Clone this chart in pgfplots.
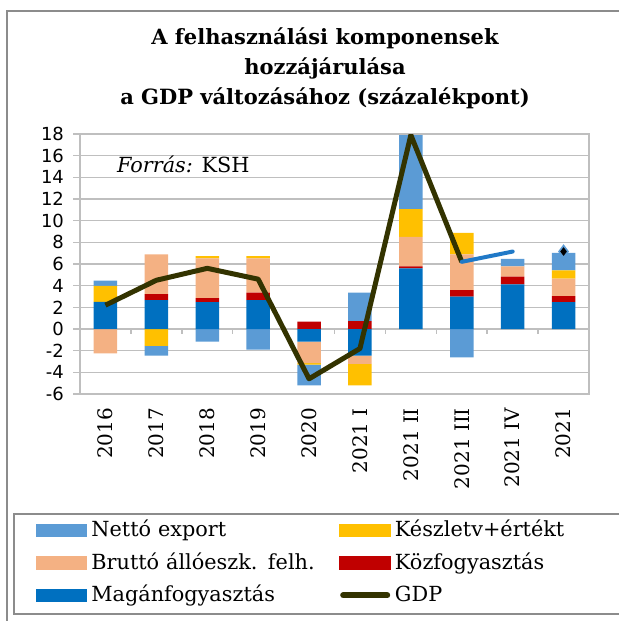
\documentclass[border=0pt]{standalone}
\usepackage{fontspec}
\setmainfont{DejaVu Serif}
\newfontfamily\sansf{DejaVu Sans}
\usepackage{pgfplots}
\usepackage{pgfplotstable}
\pgfplotsset{compat=1.18}
\definecolor{cnet}{HTML}{5B9BD5}
\definecolor{ckes}{HTML}{FFC000}
\definecolor{cbru}{HTML}{F4B183}
\definecolor{ckoz}{HTML}{C00000}
\definecolor{cmag}{HTML}{0070C0}
\definecolor{cgdp}{HTML}{333300}
\definecolor{cfc}{HTML}{2079C7}
\definecolor{cgrid}{HTML}{BFBFBF}
\definecolor{cframe}{HTML}{8C8C8C}

% contributions (percentage points); negatives stack separately below zero
\pgfplotstableread{
x mag koz bru kes net
0 2.50 0.00 -2.26 1.47 0.50
1 2.66 0.55 3.67 -1.56 -0.89
2 2.48 0.37 3.67 0.21 -1.16
3 2.66 0.70 3.15 0.21 -1.90
4 -1.16 0.67 -2.00 -0.12 -1.93
5 -2.45 0.73 -0.76 -2.00 2.63
6 5.60 0.18 2.72 2.57 6.82
7 3.00 0.58 3.30 2.00 -2.63
8 4.13 0.70 0.95 0.00 0.70
9 2.48 0.55 1.62 0.76 1.62
}\bars

\pgfplotstableread{
x gdp
0 2.2
1 4.5
2 5.6
3 4.6
4 -4.6
5 -1.8
6 17.9
7 6.2
}\gdp

\pgfplotstableread{
x fc
7 6.2
8 7.15
}\fc

\pgfplotstableread{
x y
9 7.15
}\ann

\pgfplotsset{
  common/.style={
    at={(40pt,-197pt)}, anchor=south west,
    scale only axis, width=254.5pt, height=130pt,
    xmin=-0.5, xmax=9.5, ymin=-6, ymax=18,
  }
}

\begin{document}
\begin{tikzpicture}
\useasboundingbox (0,0) rectangle (309.5pt,-310.5pt);
\draw[cframe, line width=1pt] (3.5pt,-312pt) -- (3.5pt,-5.5pt) -- (311pt,-5.5pt);
\node[font=\bfseries\fontsize{10.5}{15}\selectfont, align=center] at (162.5pt,-34pt)
  {A felhasználási komponensek\\hozzájárulása\\a GDP változásához (százalékpont)};

\begin{axis}[common,
  ytick={-6,-4,...,18},
  xtick={0,...,9},
  xticklabels={2016,2017,2018,2019,2020,2021 I,2021 II,2021 III,2021 IV,2021},
  xtick style={draw=none},
  ytick pos=left,
  tick align=outside,
  major tick length=3.5pt,
  ytick style={cgrid, line width=0.75pt},
  ymajorgrids, grid style={cgrid, line width=0.75pt},
  axis line style={cgrid, line width=0.9pt},
  yticklabel style={font=\sansf\fontsize{9}{9}\selectfont, xshift=-1pt},
  /pgf/number format/assume math mode=true,
  xticklabel style={rotate=90, anchor=east, font=\fontsize{10}{10}\selectfont},
  ybar stacked, bar width=11.75pt,
]
\addplot[fill=cmag, draw=none] table[x=x,y=mag]{\bars};
\addplot[fill=ckoz, draw=none] table[x=x,y=koz]{\bars};
\addplot[fill=cbru, draw=none] table[x=x,y=bru]{\bars};
\addplot[fill=ckes, draw=none] table[x=x,y=kes]{\bars};
\addplot[fill=cnet, draw=none] table[x=x,y=net]{\bars};
\end{axis}

\begin{axis}[common,
  axis lines=none,
  legend columns=2,
  legend cell align=left,
  legend style={at={(0,0)}, anchor=north west, xshift=-33.5pt, yshift=-59.5pt,
    draw=cframe, line width=0.8pt, inner xsep=11pt, inner ysep=4pt,
    font=\fontsize{10.4}{12}\selectfont,
    nodes={inner sep=0pt, text height=7.5pt, text depth=2pt, align=left},
    row sep=6.75pt,
    /tikz/every odd column/.append style={column sep=2pt},
    /tikz/every even column/.append style={column sep=4pt},
  },
]
\pgfplotsinvokeforeach{0.5,1.5,2.5,3.5,4.5,5.5,6.5,7.5,8.5}{
  \draw[cgrid, line width=0.75pt] (axis cs:#1,0) -- ++(0pt,-2.5pt);
}
\node[anchor=west, inner sep=0pt, font=\fontsize{10.4}{12}\selectfont] at (axis cs:0.22,15.2) {\textit{Forrás:} KSH};

\addplot[cgdp, line width=2.5pt, line join=round, forget plot] table[x=x,y=gdp]{\gdp};
\addplot[cfc, line width=2pt, line cap=round, forget plot] table[x=x,y=fc]{\fc};
\addplot[only marks, mark=diamond*, mark size=3pt, mark options={fill=black, draw=cnet, line width=0.8pt}, forget plot] table[x=x,y=y]{\ann};

\addlegendimage{legend image code/.code={\fill[cnet] (0pt,-2.5pt) rectangle (25pt,3.5pt);}}
\addlegendentry[text width=120pt]{Nettó export}
\addlegendimage{legend image code/.code={\fill[ckes] (0pt,-2.5pt) rectangle (25pt,3.5pt);}}
\addlegendentry[text width=105.5pt]{Készletv+értékt}
\addlegendimage{legend image code/.code={\fill[cbru] (0pt,-2.5pt) rectangle (25pt,3.5pt);}}
\addlegendentry[text width=120pt]{Bruttó állóeszk. felh.}
\addlegendimage{legend image code/.code={\fill[ckoz] (0pt,-2.5pt) rectangle (25pt,3.5pt);}}
\addlegendentry[text width=105.5pt]{Közfogyasztás}
\addlegendimage{legend image code/.code={\fill[cmag] (0pt,-2.5pt) rectangle (25pt,3.5pt);}}
\addlegendentry[text width=120pt]{Magánfogyasztás}
\addlegendimage{legend image code/.code={\draw[cgdp, line width=3pt, line cap=round] (1.5pt,0.5pt) -- (23.5pt,0.5pt);}}
\addlegendentry[text width=105.5pt]{GDP}
\end{axis}
\end{tikzpicture}
\end{document}
